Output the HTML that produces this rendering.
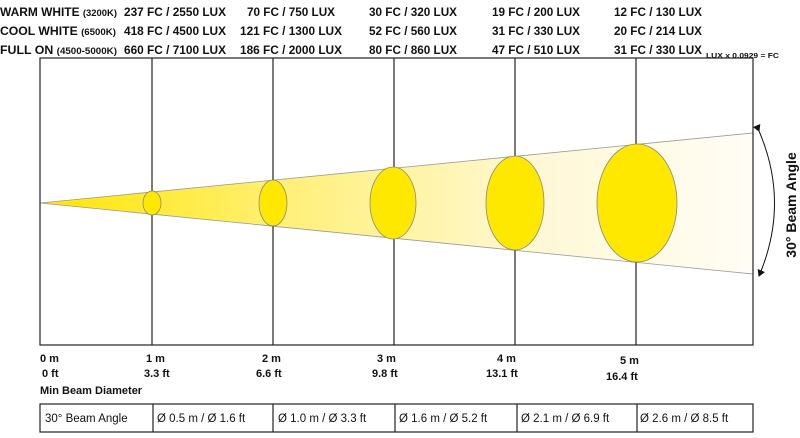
<!DOCTYPE html>
<html><head><style>
body{margin:0;background:#fff}
svg text{font-family:"Liberation Sans",sans-serif;font-weight:bold;fill:#111}
</style></head><body>
<svg width="800" height="433" viewBox="0 0 800 433" xmlns="http://www.w3.org/2000/svg">
<defs>
<linearGradient id="g" x1="40" y1="0" x2="753" y2="0" gradientUnits="userSpaceOnUse">
<stop offset="0" stop-color="#ffe600"/>
<stop offset="0.35" stop-color="#fff07a"/>
<stop offset="0.7" stop-color="#fff8d6"/>
<stop offset="1" stop-color="#fffdf5"/>
</linearGradient>
<marker id="ah" markerWidth="8" markerHeight="8" refX="6" refY="4" orient="auto" markerUnits="userSpaceOnUse">
<path d="M0,0 L7,4 L0,8 z" fill="#111"/></marker>
</defs>
<g font-size="12">
<text x="0" y="16" textLength="117" lengthAdjust="spacingAndGlyphs">WARM WHITE <tspan font-size="9.5">(3200K)</tspan></text>
<text x="0" y="35" textLength="116" lengthAdjust="spacingAndGlyphs">COOL WHITE <tspan font-size="9.5">(6500K)</tspan></text>
<text x="0" y="54" textLength="117" lengthAdjust="spacingAndGlyphs">FULL ON <tspan font-size="9.5">(4500-5000K)</tspan></text>
<text x="124" y="16" textLength="102" lengthAdjust="spacingAndGlyphs">237 FC / 2550 LUX</text>
<text x="124" y="35" textLength="102" lengthAdjust="spacingAndGlyphs">418 FC / 4500 LUX</text>
<text x="124" y="54" textLength="102" lengthAdjust="spacingAndGlyphs">660 FC / 7100 LUX</text>
<text x="247" y="16" textLength="88" lengthAdjust="spacingAndGlyphs">70 FC / 750 LUX</text>
<text x="240" y="35" textLength="102" lengthAdjust="spacingAndGlyphs">121 FC / 1300 LUX</text>
<text x="240" y="54" textLength="102" lengthAdjust="spacingAndGlyphs">186 FC / 2000 LUX</text>
<text x="369" y="16" textLength="88" lengthAdjust="spacingAndGlyphs">30 FC / 320 LUX</text>
<text x="369" y="35" textLength="88" lengthAdjust="spacingAndGlyphs">52 FC / 560 LUX</text>
<text x="369" y="54" textLength="88" lengthAdjust="spacingAndGlyphs">80 FC / 860 LUX</text>
<text x="492" y="16" textLength="88" lengthAdjust="spacingAndGlyphs">19 FC / 200 LUX</text>
<text x="492" y="35" textLength="88" lengthAdjust="spacingAndGlyphs">31 FC / 330 LUX</text>
<text x="492" y="54" textLength="88" lengthAdjust="spacingAndGlyphs">47 FC / 510 LUX</text>
<text x="614" y="16" textLength="88" lengthAdjust="spacingAndGlyphs">12 FC / 130 LUX</text>
<text x="614" y="35" textLength="88" lengthAdjust="spacingAndGlyphs">20 FC / 214 LUX</text>
<text x="614" y="54" textLength="88" lengthAdjust="spacingAndGlyphs">31 FC / 330 LUX</text>
</g>
<text x="706" y="58" font-size="7.5" textLength="73" lengthAdjust="spacingAndGlyphs">LUX x 0.0929 = FC</text>
<polygon points="40,203 753,133 753,274" fill="url(#g)" stroke="#999" stroke-width="0.8"/>
<g stroke="#222" stroke-width="1.2">
<rect x="40" y="58" width="713" height="287" fill="none"/>
<line x1="152" y1="58" x2="152" y2="345"/>
<line x1="273" y1="58" x2="273" y2="345"/>
<line x1="394" y1="58" x2="394" y2="345"/>
<line x1="515" y1="58" x2="515" y2="345"/>
<line x1="636" y1="58" x2="636" y2="345"/>
</g>
<g fill="#ffe800" stroke="#888" stroke-width="0.8">
<ellipse cx="152" cy="203" rx="9" ry="12"/>
<ellipse cx="273" cy="203" rx="14" ry="23"/>
<ellipse cx="393" cy="203" rx="23" ry="36"/>
<ellipse cx="515" cy="203" rx="29" ry="47"/>
<ellipse cx="637" cy="203" rx="40" ry="59"/>
</g>
<path d="M759,131 Q790,203 759,276" fill="none" stroke="#111" stroke-width="1" marker-start="url(#ah)" marker-end="url(#ah)"/>
<text transform="translate(796,205) rotate(-90)" text-anchor="middle" font-size="14">30° Beam Angle</text>
<g font-size="11">
<text x="40" y="362">0 m</text><text x="42" y="377">0 ft</text>
<text x="146" y="362">1 m</text><text x="144" y="377">3.3 ft</text>
<text x="262" y="362">2 m</text><text x="256" y="377">6.6 ft</text>
<text x="377" y="362">3 m</text><text x="372" y="377">9.8 ft</text>
<text x="497" y="362">4 m</text><text x="486" y="377">13.1 ft</text>
<text x="620" y="364">5 m</text><text x="606" y="380">16.4 ft</text>
<text x="40" y="394">Min Beam Diameter</text>
</g>
<g stroke="#222" stroke-width="1.2" fill="none">
<rect x="40" y="404" width="713" height="28"/>
<line x1="153" y1="404" x2="153" y2="432"/>
<line x1="273" y1="404" x2="273" y2="432"/>
<line x1="395" y1="404" x2="395" y2="432"/>
<line x1="517" y1="404" x2="517" y2="432"/>
<line x1="637" y1="404" x2="637" y2="432"/>
</g>
<g font-size="11.5">
<text x="45" y="422" style="font-weight:normal">30° Beam Angle</text>
<text x="157" y="422" style="font-weight:normal">Ø 0.5 m / Ø 1.6 ft</text>
<text x="278" y="422" style="font-weight:normal">Ø 1.0 m / Ø 3.3 ft</text>
<text x="399" y="422" style="font-weight:normal">Ø 1.6 m / Ø 5.2 ft</text>
<text x="521" y="422" style="font-weight:normal">Ø 2.1 m / Ø 6.9 ft</text>
<text x="640" y="422" style="font-weight:normal">Ø 2.6 m / Ø 8.5 ft</text>
</g>
</svg>
</body></html>
